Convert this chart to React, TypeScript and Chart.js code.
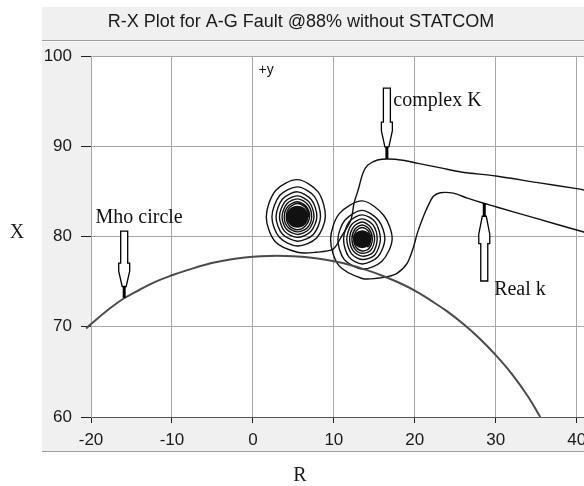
import React, { useEffect, useRef } from 'react';
import { Chart, registerables } from 'chart.js';

Chart.register(...registerables);

const chartTitle = 'R-X Plot for A-G Fault @88% without STATCOM';
const xAxisTitle = 'R';
const yAxisTitle = 'X';

// Mho circle
const mhoR = [-20.6, -20, -18, -16, -14, -12, -10, -8, -6, -4, -2, 0, 2, 4, 6, 8, 10, 12, 14, 16, 18, 20, 22, 24, 26, 28, 30, 32, 34, 35.5];
const mhoX = [69.8, 70.3, 71.8, 73.1, 74.1, 75.0, 75.7, 76.3, 76.85, 77.25, 77.55, 77.75, 77.85, 77.85, 77.75, 77.55, 77.25, 76.85, 76.3, 75.65, 74.9, 74.0, 72.9, 71.7, 70.3, 68.7, 66.85, 64.75, 62.25, 60.0];

// complex K trajectory (ends spiralling into fault point 1)
const complexKR = [
  41.5, 40, 35, 30, 25.7, 23.2, 20.4, 18.5, 16.7, 15.4, 14.2, 13.6, 13.0, 12.5, 12.1, 10.9, 9.9, 7.8,
  5.5, 2.74, 1.65, 2.81, 5.5, 8.05, 8.95,
  7.87, 5.5, 3.24, 2.35, 3.31, 5.5, 7.59, 8.35,
  7.47, 5.5, 3.61, 2.86, 3.66, 5.5, 7.25, 7.9,
  7.15, 5.5, 3.9, 3.28, 3.96, 5.5, 6.98, 7.55,
  6.91, 5.5, 4.13, 3.6, 4.18, 5.5, 6.77, 7.26,
  6.72, 5.5, 4.33, 3.87, 4.37, 5.5, 6.59, 7.0,
  6.48, 5.5, 4.52, 4.12, 4.52, 5.5, 6.48, 6.88,
  5.5,
];
const complexKX = [
  85.05, 85.3, 86.0, 86.7, 87.15, 87.6, 88.1, 88.45, 88.59, 88.48, 87.92, 87.04, 85.15, 83.71, 81.83, 79.94, 78.6, 78.25,
  78.25, 79.44, 82.2, 85.1, 86.3, 84.95, 82.2,
  79.83, 78.95, 79.94, 82.2, 84.55, 85.5, 84.45, 82.2,
  80.23, 79.48, 80.31, 82.2, 84.15, 84.95, 84.05, 82.2,
  80.55, 79.9, 80.6, 82.2, 83.85, 84.5, 83.78, 82.2,
  80.79, 80.23, 80.83, 82.2, 83.6, 84.17, 83.55, 82.2,
  80.98, 80.51, 81.03, 82.2, 83.38, 83.85, 83.33, 82.2,
  81.17, 80.75, 81.17, 82.2, 83.23, 83.65, 83.23, 82.2,
  82.2,
];

// Real k trajectory (ends spiralling into fault point 2)
const realKR = [
  41.5, 40, 35, 30, 28.5, 26.5, 24.75, 23.15, 22.3, 21.7, 21.05, 20.3, 19.85, 19.05, 17.8, 16.6, 15.35,
  13.5, 10.6, 9.6, 10.67, 13.5, 16.15, 17.2, 15.94,
  13.5, 11.27, 10.5, 11.38, 13.5, 15.55, 16.3, 15.44,
  13.5, 11.85, 11.2, 11.88, 13.5, 15.12, 15.75, 15.05,
  13.5, 12.17, 11.6, 12.17, 13.5, 14.83, 15.35, 14.8,
  13.5, 12.42, 11.95, 12.42, 13.5, 14.56, 15.03, 14.53,
  13.5, 12.6, 12.23, 12.6, 13.5, 14.38, 14.75, 14.32,
  13.5, 12.76, 12.45, 12.76, 13.5, 14.24, 14.55, 14.2,
  13.5,
];
const realKX = [
  80.33, 80.72, 82.0, 83.3, 83.68, 84.25, 84.8, 84.85, 84.45, 83.5, 82.2, 80.35, 78.87, 77.03, 75.92, 75.55, 75.37,
  75.35, 76.8, 79.7, 82.53, 83.95, 82.35, 79.7, 77.26,
  76.4, 77.47, 79.7, 81.82, 82.9, 81.75, 79.7, 77.76,
  76.95, 77.75, 79.7, 81.62, 82.4, 81.6, 79.7, 77.95,
  77.45, 78.1, 79.7, 81.3, 81.95, 81.28, 79.7, 78.2,
  77.82, 78.38, 79.7, 81.04, 81.6, 81.02, 79.7, 78.45,
  78.15, 78.6, 79.7, 80.8, 81.28, 80.8, 79.7, 78.65,
  78.4, 78.78, 79.7, 80.62, 81.0, 80.62, 79.7, 78.85,
  79.7,
];

// annotations (data coordinates)
const noteText = ['Mho circle', 'complex K', 'Real k'];
const noteR = [-19.44, 17.35, 29.8];
const noteX = [82.05, 95.0, 74.07];
const axisNote = '+y';
const axisNoteR = 0.7;
const axisNoteX = 98.45;
const arrowR = [-15.9, 16.55, 28.58];
const arrowFromX = [80.6, 96.45, 75.07];
const arrowToX = [73.2, 88.59, 83.71];

const SANS = '"Liberation Sans", Arial, sans-serif';
const SERIF = '"Liberation Serif", "Times New Roman", serif';

function toPoints(rs: number[], xs: number[]) {
  return rs.map((r, i) => ({ x: r, y: xs[i] }));
}

function drawArrow(ctx: CanvasRenderingContext2D, x: number, y0: number, y1: number) {
  const s = Math.sign(y1 - y0);
  const A = Math.abs(y1 - y0);
  const ya = y0 + s * A * 0.48;
  const yb = y0 + s * A * 0.6;
  const yc = y0 + s * A * 0.83;
  ctx.beginPath();
  ctx.moveTo(x - 3.5, y0);
  ctx.lineTo(x + 3.5, y0);
  ctx.lineTo(x + 3.5, ya);
  ctx.lineTo(x + 5.5, ya);
  ctx.lineTo(x + 5.5, yb);
  ctx.lineTo(x + 2, yc);
  ctx.lineTo(x - 2, yc);
  ctx.lineTo(x - 5.5, yb);
  ctx.lineTo(x - 5.5, ya);
  ctx.lineTo(x - 3.5, ya);
  ctx.closePath();
  ctx.fillStyle = '#ffffff';
  ctx.fill();
  ctx.strokeStyle = '#000000';
  ctx.lineWidth = 1.3;
  ctx.stroke();
  ctx.fillStyle = '#000000';
  ctx.fillRect(x - 1.5, Math.min(yc, y1), 3, Math.abs(y1 - yc));
}

const CANVAS_W = 595;
const CANVAS_H = 486;

export default function App() {
  const ref = useRef<HTMLCanvasElement>(null);

  useEffect(() => {
    const canvas = ref.current;
    if (!canvas) return;

    const decor = {
      id: 'decor',
      beforeDraw(chart: any) {
        const { ctx, chartArea: a, width, height } = chart;
        ctx.save();
        ctx.fillStyle = '#ffffff';
        ctx.fillRect(0, 0, width, height);
        ctx.fillStyle = '#f0f0f0';
        ctx.fillRect(42, 7, width - 42, 445);
        ctx.fillStyle = '#ffffff';
        ctx.fillRect(a.left, a.top, a.right - a.left, a.bottom - a.top);
        ctx.fillStyle = '#a0a0a0';
        ctx.fillRect(42, 40, width - 42, 1);
        ctx.fillStyle = '#ffffff';
        ctx.fillRect(42, 41, width - 42, 1);
        ctx.fillStyle = '#a0a0a0';
        ctx.fillRect(42, 451, width - 42, 1);
        ctx.fillStyle = '#1a1a1a';
        ctx.font = `18px ${SANS}`;
        ctx.textAlign = 'center';
        ctx.textBaseline = 'middle';
        ctx.fillText(chartTitle, 301, 22);
        ctx.font = `20px ${SERIF}`;
        ctx.fillText(yAxisTitle, 17, 233);
        ctx.fillText(xAxisTitle, 300, 476);
        ctx.restore();
      },
      afterDatasetsDraw(chart: any) {
        const { ctx } = chart;
        const sx = chart.scales.x;
        const sy = chart.scales.y;
        ctx.save();
        arrowR.forEach((r, i) => {
          drawArrow(ctx, sx.getPixelForValue(r), sy.getPixelForValue(arrowFromX[i]), sy.getPixelForValue(arrowToX[i]));
        });
        ctx.fillStyle = '#111111';
        ctx.font = `20px ${SERIF}`;
        ctx.textAlign = 'left';
        ctx.textBaseline = 'middle';
        noteText.forEach((t, i) => {
          ctx.fillText(t, sx.getPixelForValue(noteR[i]), sy.getPixelForValue(noteX[i]));
        });
        ctx.font = `14px ${SANS}`;
        ctx.fillText(axisNote, sx.getPixelForValue(axisNoteR), sy.getPixelForValue(axisNoteX));
        ctx.restore();
      },
    };

    const lastBig = (n: number, r: number) => (c: any) => (c.dataIndex === n - 1 ? r : 0);

    const chart = new Chart(canvas, {
      type: 'scatter',
      data: {
        datasets: [
          {
            label: 'Mho circle',
            data: toPoints(mhoR, mhoX),
            showLine: true,
            borderColor: '#4a4a4a',
            borderWidth: 2,
            pointRadius: 0,
            tension: 0.4,
            clip: false as any,
          },
          {
            label: 'complex K',
            data: toPoints(complexKR, complexKX),
            showLine: true,
            borderColor: '#111111',
            borderWidth: 1.4,
            pointRadius: lastBig(complexKR.length, 11) as any,
            pointBackgroundColor: '#111111',
            pointBorderWidth: 0,
            tension: 0.3,
            clip: false as any,
          },
          {
            label: 'Real k',
            data: toPoints(realKR, realKX),
            showLine: true,
            borderColor: '#111111',
            borderWidth: 1.4,
            pointRadius: lastBig(realKR.length, 9) as any,
            pointBackgroundColor: '#111111',
            pointBorderWidth: 0,
            tension: 0.3,
            clip: false as any,
          },
        ],
      },
      options: {
        responsive: false,
        animation: false,
        devicePixelRatio: 1,
        events: [],
        layout: { padding: { top: 56, left: 0, right: 0, bottom: 0 } },
        plugins: {
          legend: { display: false },
          title: { display: false },
          tooltip: { enabled: false },
        },
        scales: {
          x: {
            type: 'linear',
            min: -20,
            max: 40.9,
            afterFit: (s: any) => {
              s.height = 69;
            },
            ticks: {
              stepSize: 10,
              includeBounds: false,
              autoSkip: false,
              maxRotation: 0,
              padding: 7,
              color: '#1a1a1a',
              font: { family: SANS, size: 17 },
            },
            grid: { color: '#a6a6a6', lineWidth: 1, tickLength: 6, tickColor: '#222222' },
            border: { color: '#555555', width: 1 },
          },
          y: {
            type: 'linear',
            min: 60,
            max: 100,
            afterFit: (s: any) => {
              s.width = 91;
            },
            ticks: {
              stepSize: 10,
              padding: 9,
              color: '#1a1a1a',
              font: { family: SANS, size: 17 },
            },
            grid: { color: '#a6a6a6', lineWidth: 1, tickLength: 10, tickColor: '#222222' },
            border: { color: '#a6a6a6', width: 1 },
          },
        },
      },
      plugins: [decor],
    });

    return () => chart.destroy();
  }, []);

  return (
    <div style={{ position: 'fixed', left: 0, top: 0, width: 584, height: 486, overflow: 'hidden', background: '#fff' }}>
      <canvas ref={ref} width={CANVAS_W} height={CANVAS_H} style={{ display: 'block', width: CANVAS_W, height: CANVAS_H }} />
    </div>
  );
}
